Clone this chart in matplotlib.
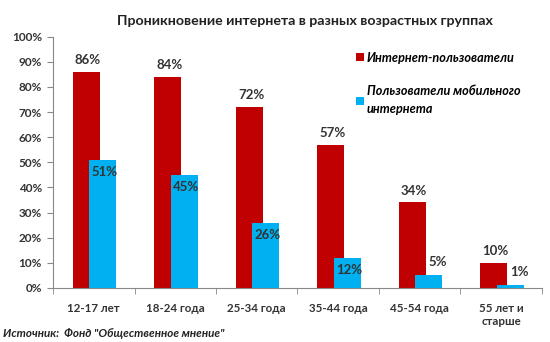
import numpy as np
import matplotlib.pyplot as plt

# data
groups = ["12-17 лет", "18-24 года", "25-34 года", "35-44 года", "45-54 года", "55 лет и\nстарше"]
internet = [86, 84, 72, 57, 34, 10]
mobile = [51, 45, 26, 12, 5, 1]

red = "#C00000"
blue = "#00B0F0"

plt.rcParams['font.family'] = ['Lato', 'DejaVu Sans']

fig = plt.figure(figsize=(5.5, 3.42), dpi=100)
ax = fig.add_axes([0.0964, 0.158, 0.889, 0.735])

x = np.arange(len(groups))
w = 0.33
ax.bar(x - 0.09, internet, w, color=red, label="Интернет-пользователи", zorder=2)
ax.bar(x + 0.11, mobile, w, color=blue, label="Пользователи мобильного\nинтернета", zorder=3)

#labels over red bars
for xi, v in zip(x, internet):
    ax.text(xi - 0.07, v + 2.2, "%d%%" % v, ha="center", va="bottom", fontsize=9.5, fontweight="bold", color="#333333")

#labels for blue bars: inside for big ones, above for small
for xi, v in zip(x, mobile):
    if v >= 10:
        ax.text(xi + 0.13, v - 4.8, "%d%%" % v, ha="center", va="center", fontsize=9.5, fontweight="bold", color="#333333", zorder=4)
    else:
        ax.text(xi + 0.22, v + 5.3, "%d%%" % v, ha="center", va="center", fontsize=9.5, fontweight="bold", color="#333333", zorder=4)

ax.set_xlim(-0.5, len(groups) - 0.5)
ax.set_ylim(0, 100)
ax.set_yticks(range(0, 101, 10))
ax.set_yticklabels(["%d%%" % t for t in range(0, 101, 10)], fontsize=8.5, fontweight="bold", color="#333333")
ax.set_xticks(x)
ax.set_xticklabels(groups, fontsize=8.3, fontweight="bold", color="#333333")
ax.tick_params(axis="x", length=0, pad=11)
ax.set_xticks(np.arange(-0.5, len(groups)), minor=True)
ax.tick_params(axis="x", which="minor", length=4, color="#888888")
ax.tick_params(axis="y", length=4, color="#888888", pad=4)

for s in ["top", "right"]:
    ax.spines[s].set_visible(False)
for s in ["left", "bottom"]:
    ax.spines[s].set_color("#888888")

leg = ax.legend(loc="upper left", bbox_to_anchor=(0.62, 0.94), borderaxespad=0, borderpad=0, frameon=False,
                handlelength=0.6, handleheight=0.6, handletextpad=0.25, labelspacing=1.7,
                prop=dict(style="italic", weight="bold", size=9.1))
for t in leg.get_texts():
    t.set_linespacing(1.6)

fig.text(0.555, 0.94, "Проникновение интернета в разных возрастных группах", ha="center", va="center",
         fontsize=10.2, fontweight="bold", color="#222222")
fig.text(0.006, 0.026, "Источник:  Фонд \"Общественное мнение\"", fontsize=8.4, style="italic",
         fontweight="bold", color="#222222", va="center")

fig.savefig("out.png", dpi=100)
